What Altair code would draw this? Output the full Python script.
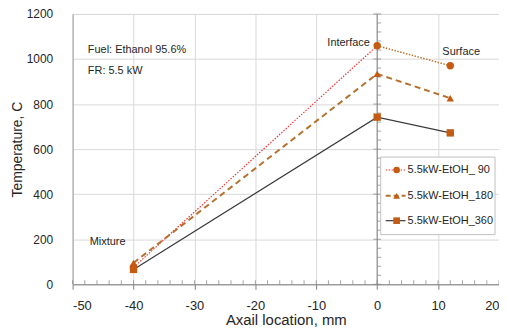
import altair as alt
import pandas as pd

# ---- data ----
x_loc = [-40, 0, 12]
t90 = [75, 1059, 970]
t180 = [95, 934, 826]
t360 = [66, 742, 672]
series = ["90", "180", "360"]
legend_labels = ["5.5kW-EtOH_ 90", "5.5kW-EtOH_180", "5.5kW-EtOH_360"]

ann_left_text = ["Fuel: Ethanol 95.6%", "FR: 5.5 kW", "Surface", "Mixture"]
ann_left_x = [-47.5, -47.5, 10.7, -47.2]
ann_left_y = [1028, 935, 1019, 176]
ann_right_text = ["Interface"]
ann_right_x = [-1.2]
ann_right_y = [1059]

x_ticks = [-50, -40, -30, -20, -10, 0, 10, 20]
y_ticks = [0, 200, 400, 600, 800, 1000, 1200]
x_minor = list(range(-50, 21, 2))
y_minor = list(range(0, 1201, 40))

W, H = 429, 272
FONT = "Liberation Sans"
MARK = "#C55A11"
TXT = "#262626"

df = pd.DataFrame({
    "x": x_loc * 3,
    "y": t90 + t180 + t360,
    "s": [series[0]] * 3 + [series[1]] * 3 + [series[2]] * 3,
})

xs = alt.Scale(domain=[-50, 20], nice=False, zero=False)
ys = alt.Scale(domain=[0, 1200], nice=False, zero=False)

X = alt.X("x:Q", scale=xs, axis=alt.Axis(
    values=x_ticks, grid=True, gridColor="#D9D9D9", domainColor="#808080",
    tickColor="#808080", tickSize=5, labelFontSize=13, labelPadding=10,
    labelColor=TXT, labelExpr="'' + datum.value", labelFont=FONT,
    title="Axail location, mm", titleFontSize=15, titleFontWeight="normal",
    titleColor=TXT, titleFont=FONT, titleY=40, titleBaseline="alphabetic"))
Y = alt.Y("y:Q", scale=ys, axis=alt.Axis(
    values=y_ticks, grid=True, gridColor="#D9D9D9", domainColor="#A6A6A6",
    ticks=False, tickSize=0, labelPadding=20, labelFontSize=12, labelColor=TXT,
    labelFont=FONT, format="d",
    title="Temperature, C", titleFontSize=14, titleFontWeight="normal",
    titleColor=TXT, titleFont=FONT, titleX=-51, titleY=H / 2, titleAngle=270,
    titleAlign="center", titleBaseline="alphabetic"))

base = alt.Chart(df)

line90a = base.transform_filter("datum.s == '90' && datum.x <= 0").mark_line(
    color="#F03535", strokeDash=[1.5, 1.5], strokeWidth=1.2).encode(x=X, y=Y)
line90b = base.transform_filter("datum.s == '90' && datum.x >= 0").mark_line(
    color="#B8762E", strokeDash=[1.5, 1.5], strokeWidth=1.5).encode(x=X, y=Y)
line180 = base.transform_filter("datum.s == '180'").mark_line(
    color="#B5722F", strokeDash=[6, 4], strokeWidth=2).encode(x=X, y=Y)
line360 = base.transform_filter("datum.s == '360'").mark_line(
    color="#3A3A3A", strokeWidth=1.2).encode(x=X, y=Y)

points = base.mark_point(filled=True, opacity=1, size=55, color=MARK).encode(
    x=X, y=Y,
    shape=alt.Shape("s:N", scale=alt.Scale(domain=series,
                    range=["circle", "triangle-up", "square"]), legend=None))

# minor ticks on bottom axis (inside)
xm = pd.DataFrame({"x": x_minor, "y": [0] * len(x_minor)})
xminor = alt.Chart(xm).mark_tick(orient="vertical", size=4, thickness=1,
                                 yOffset=-2, color="#808080").encode(x=X, y=Y)
# vertical axis at x = 0 with minor ticks
ym = pd.DataFrame({"x": [0] * len(y_minor), "y": y_minor})
yrule = alt.Chart(pd.DataFrame({"x": [0], "y": [0], "y2": [1200]})).mark_rule(
    color="#808080", strokeWidth=1).encode(x=X, y=Y, y2="y2:Q")
yminor = alt.Chart(ym).mark_tick(orient="horizontal", size=4, thickness=1,
                                 xOffset=2, color="#808080").encode(x=X, y=Y)
ymaj = pd.DataFrame({"x": [0] * len(y_ticks), "y": y_ticks})
ymajor = alt.Chart(ymaj).mark_tick(orient="horizontal", size=4, thickness=1,
                                   xOffset=-2, color="#808080").encode(x=X, y=Y)

# annotations
al = pd.DataFrame({"x": ann_left_x, "y": ann_left_y, "t": ann_left_text})
ar = pd.DataFrame({"x": ann_right_x, "y": ann_right_y, "t": ann_right_text})
ann_l = alt.Chart(al).mark_text(align="left", baseline="alphabetic", fontSize=11,
                                font=FONT, color=TXT).encode(x=X, y=Y, text="t:N")
ann_r = alt.Chart(ar).mark_text(align="right", baseline="alphabetic", fontSize=11,
                                font=FONT, color=TXT).encode(x=X, y=Y, text="t:N")

# legend (manual)
one = pd.DataFrame({"a": [0]})
leg_box = alt.Chart(one).mark_rect(fill="white", stroke="#BFBFBF", strokeWidth=1).encode(
    x=alt.value(310), x2=alt.value(425), y=alt.value(144), y2=alt.value(222))
leg_y = [157, 183, 208]
leg_line_styles = [
    dict(color="#F03535", strokeDash=[1.5, 1.5], strokeWidth=1.2),
    dict(color="#B5722F", strokeDash=[5, 3], strokeWidth=2),
    dict(color="#3A3A3A", strokeWidth=1.2),
]
leg_shapes = ["circle", "triangle-up", "square"]
leg_layers = [leg_box]
for i in range(3):
    leg_layers.append(alt.Chart(one).mark_rule(**leg_line_styles[i]).encode(
        x=alt.value(315), x2=alt.value(335), y=alt.value(leg_y[i])))
    leg_layers.append(alt.Chart(one).mark_point(
        filled=True, opacity=1, size=45, shape=leg_shapes[i], color=MARK).encode(
        x=alt.value(326), y=alt.value(leg_y[i])))
    leg_layers.append(alt.Chart(pd.DataFrame({"t": [legend_labels[i]]})).mark_text(
        align="left", baseline="middle", fontSize=11, font=FONT, color=TXT).encode(
        x=alt.value(337), y=alt.value(leg_y[i]), text="t:N"))

chart = alt.layer(
    line90a, line90b, line180, line360, xminor, yrule, yminor, ymajor,
    points, ann_l, ann_r, *leg_layers
).properties(
    width=W, height=H,
    autosize=alt.AutoSizeParams(type="none"),
    padding={"left": 65, "top": 5, "right": 0, "bottom": 46},
).configure_view(stroke="#A6A6A6", strokeWidth=1).configure(font=FONT)

chart.save("out.html", embed_options={"renderer": "svg", "actions": False})
